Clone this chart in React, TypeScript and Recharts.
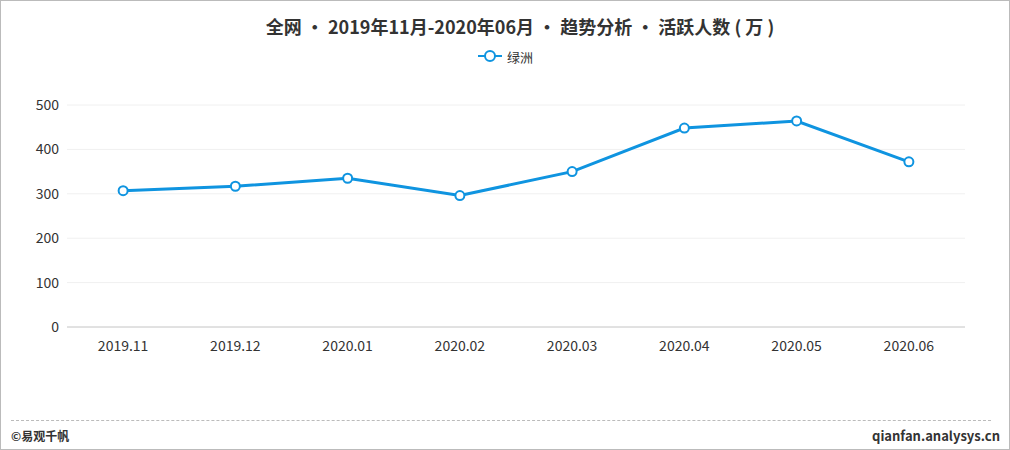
import React from "react";
import {
  LineChart,
  Line,
  XAxis,
  YAxis,
  CartesianGrid,
  Legend,
} from "recharts";

const months = [
  "2019.11",
  "2019.12",
  "2020.01",
  "2020.02",
  "2020.03",
  "2020.04",
  "2020.05",
  "2020.06",
];
const oasis = [307, 317, 335, 296, 350, 448, 464, 372];
const yTicks = [0, 100, 200, 300, 400, 500];
const boundaryTicks = [0, 1, 2, 3, 4, 5, 6, 7, 8];

const seriesName = "绿洲";
const title = "全网 • 2019年11月-2020年06月 • 趋势分析 • 活跃人数 ( 万 )";

const data = months.map((m, i) => ({ month: m, value: oasis[i] }));

const BLUE = "#0f94e0";
const FONT = '"Microsoft YaHei", "Noto Sans CJK SC", sans-serif';

const LegendContent = () => (
  <div
    style={{
      display: "flex",
      justifyContent: "center",
      alignItems: "center",
      height: 20,
      fontFamily: FONT,
      fontSize: 13,
      color: "#333",
    }}
  >
    <svg width={26} height={14} style={{ marginRight: 4 }}>
      <line x1={1} y1={7} x2={25} y2={7} stroke={BLUE} strokeWidth={2} />
      <circle cx={13} cy={7} r={5} fill="#fff" stroke={BLUE} strokeWidth={2} />
    </svg>
    <span>{seriesName}</span>
  </div>
);

const App = () => {
  return (
    <div
      style={{
        position: "relative",
        width: 1010,
        height: 450,
        boxSizing: "border-box",
        border: "1px solid #bbb",
        background: "#fff",
        fontFamily: FONT,
      }}
    >
      <style>{"body{margin:0}"}</style>
      <div
        style={{
          position: "absolute",
          top: 12,
          left: 0,
          width: 1010,
          textAlign: "center",
          fontSize: 18,
          fontWeight: "bold",
          color: "#333",
          paddingLeft: 28,
          boxSizing: "border-box",
        }}
      >
        {title}
      </div>
      <div style={{ position: "absolute", top: -1, left: -1 }}>
        <LineChart
          width={1010}
          height={450}
          data={data}
          margin={{ top: 85, right: 45, bottom: 80, left: 7 }}
        >
          <CartesianGrid horizontal vertical={false} stroke="#f0f0f0" />
          <XAxis
            type="number"
            domain={[0, 8]}
            ticks={boundaryTicks}
            tick={false}
            height={1}
            axisLine={{ stroke: "#ccc" }}
            tickLine={{ stroke: "#ccc" }}
            tickSize={5}
          />
          <XAxis
            xAxisId="cat"
            dataKey="month"
            scale="band"
            height={42}
            axisLine={false}
            tickLine={false}
            tickMargin={7}
            tick={{ fill: "#333", fontSize: 14, fontFamily: FONT }}
          />
          <YAxis
            width={60}
            domain={[0, 500]}
            ticks={yTicks}
            axisLine={false}
            tickLine={false}
            tick={{ fill: "#333", fontSize: 14, fontFamily: FONT }}
          />
          <Legend
            verticalAlign="top"
            content={LegendContent}
            wrapperStyle={{ top: 46, left: 0, width: 1010 }}
          />
          <Line
            xAxisId="cat"
            dataKey="value"
            name={seriesName}
            stroke={BLUE}
            strokeWidth={3}
            dot={{ r: 4.5, fill: "#fff", stroke: BLUE, strokeWidth: 2 }}
            isAnimationActive={false}
          />
        </LineChart>
      </div>
      <div
        style={{
          position: "absolute",
          top: 419,
          left: 10,
          width: 980,
          borderTop: "1px dashed #bbb",
        }}
      />
      <div
        style={{
          position: "absolute",
          top: 426,
          left: 10,
          fontSize: 12,
          fontWeight: "bold",
          color: "#333",
        }}
      >
        ©易观千帆
      </div>
      <div
        style={{
          position: "absolute",
          top: 425,
          right: 9,
          fontSize: 13,
          fontWeight: "bold",
          color: "#333",
        }}
      >
        qianfan.analysys.cn
      </div>
    </div>
  );
};

export default App;
